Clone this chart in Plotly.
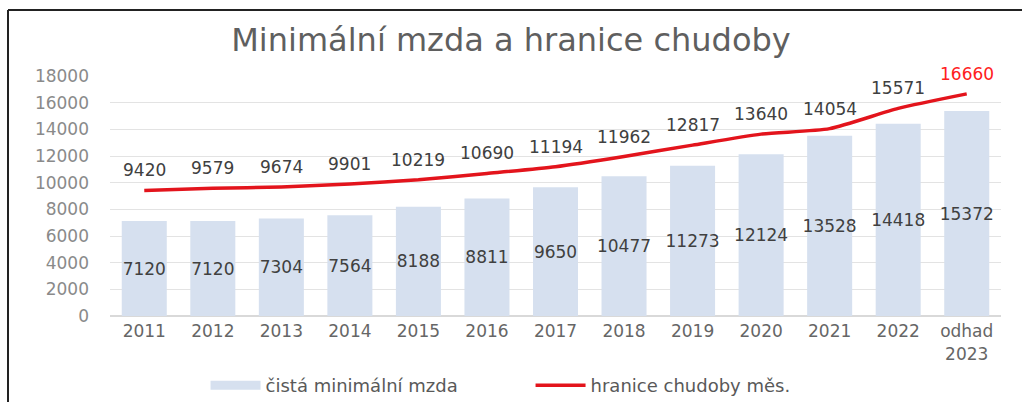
import plotly.graph_objects as go

categories = ["2011", "2012", "2013", "2014", "2015", "2016", "2017", "2018",
              "2019", "2020", "2021", "2022", "odhad<br>2023"]
min_wage = [7120, 7120, 7304, 7564, 8188, 8811, 9650, 10477, 11273, 12124, 13528, 14418, 15372]
poverty_line = [9420, 9579, 9674, 9901, 10219, 10690, 11194, 11962, 12817, 13640, 14054, 15571, 16660]
y_ticks = [0, 2000, 4000, 6000, 8000, 10000, 12000, 14000, 16000, 18000]

FONT = "DejaVu Sans"
BAR_COLOR = "#d6e0ef"
label_colors = ["#404040"] * (len(poverty_line) - 1) + ["#ff2020"]
xpos = list(range(len(categories)))

fig = go.Figure()
fig.add_trace(go.Bar(
    x=xpos, y=min_wage, name="čistá minimální mzda", showlegend=False, legendgroup="wage",
    marker=dict(color=BAR_COLOR, line=dict(width=0)),
    text=[str(v) for v in min_wage], textposition="inside", insidetextanchor="middle",
    textangle=0, constraintext="none",
    textfont=dict(family=FONT, size=17, color="#404040"), cliponaxis=False,
))
# legend proxy for the bars (wide flat swatch like the original)
fig.add_trace(go.Scatter(
    x=[None], y=[None], name="čistá minimální mzda", legendgroup="wage",
    mode="lines", line=dict(color=BAR_COLOR, width=9),
))
fig.add_trace(go.Scatter(
    x=xpos, y=poverty_line, name="hranice chudoby měs.",
    mode="lines", line=dict(color="#e3141c", width=3.5, shape="spline", smoothing=0.6),
    cliponaxis=False,
))
for xi, val, col in zip(xpos, poverty_line, label_colors):
    fig.add_annotation(x=xi, y=val, xref="x", yref="y", text=str(val), showarrow=False,
                       yshift=20, font=dict(family=FONT, size=17, color=col))

fig.update_layout(
    width=1022, height=402,
    margin=dict(l=110, r=21, t=76, b=86, autoexpand=False),
    paper_bgcolor="white", plot_bgcolor="white",
    title=dict(text="Minimální mzda a hranice chudoby", x=0.5, xanchor="center",
               y=1 - 40 / 402, yanchor="middle",
               font=dict(family=FONT, size=32, color="#5f5f5f")),
    bargap=0.343,
    showlegend=True,
    legend=dict(orientation="h", x=0.472, xanchor="center", y=-0.29, yanchor="middle",
                font=dict(family=FONT, size=18, color="#595959"), itemwidth=50,
                entrywidth=260),
    xaxis=dict(range=[-0.5, len(categories) - 0.5], tickvals=xpos, ticktext=categories,
               showgrid=False, showline=True, linecolor="#d9d9d9", ticks="",
               zeroline=False, automargin=False,
               tickfont=dict(family=FONT, size=17, color="#666666")),
    yaxis=dict(range=[0, 18000], tickvals=y_ticks, ticktext=[str(v) for v in y_ticks],
               showgrid=True, gridcolor="#e3e3e3", automargin=False,
               zeroline=True, zerolinecolor="#d9d9d9", ticks="", ticklabelstandoff=20,
               tickfont=dict(family=FONT, size=17, color="#8a8a8a")),
)

# frame lines (top and left edges of the screenshot frame)
fig.add_shape(type="line", xref="paper", yref="paper",
              x0=(8 - 110) / 891, x1=1.1, y0=(316 - 10) / 240, y1=(316 - 10) / 240,
              line=dict(color="#222222", width=2))
fig.add_shape(type="line", xref="paper", yref="paper",
              x0=(8 - 110) / 891, x1=(8 - 110) / 891, y0=(316 - 10) / 240, y1=-0.5,
              line=dict(color="#222222", width=2))

fig.write_html("out.html")
